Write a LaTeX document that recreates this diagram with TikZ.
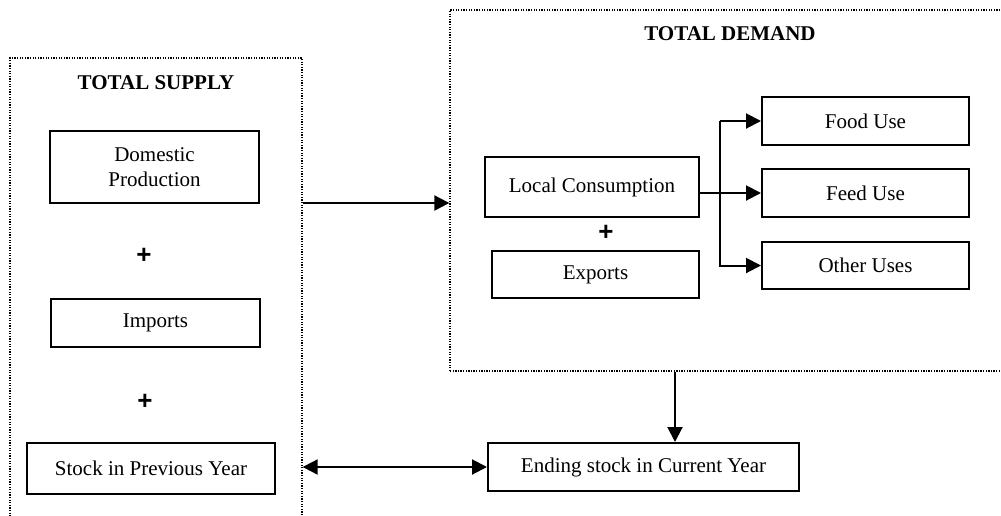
\documentclass[tikz,border=0pt]{standalone}
\usepackage{fontspec}
\setmainfont{Liberation Serif}
\newfontfamily\plusfont{Liberation Sans}
\usetikzlibrary{arrows.meta}
\begin{document}
\begin{tikzpicture}[x=1pt,y=-1pt,
  every node/.style={font=\fontsize{21}{25}\selectfont},
  box/.style={draw, line width=2pt, rectangle, inner sep=0pt, align=center},
  dotbox/.style={draw, line width=1.3pt, dash pattern=on 1.3pt off 1.3pt, rectangle, inner sep=0pt},
  title/.style={font=\fontsize{21}{25}\selectfont\bfseries},
  plus/.style={font=\fontsize{26}{30}\plusfont\bfseries},
  arr/.style={line width=2pt, line join=miter, -{Triangle[length=15pt,width=15pt]}},
  dblarr/.style={line width=2pt, {Triangle[length=15pt,width=15pt]}-{Triangle[length=15pt,width=15pt]}}
]
\useasboundingbox (0,0) rectangle (1001,515);
% dotted group boxes
\node[dotbox, minimum width=292pt, minimum height=472pt] (supplybox) at (156,294) {};
\node[dotbox, minimum width=560pt, minimum height=361pt] (demandbox) at (730,190.5) {};
\node[title] (supplytitle) at (156,83) {TOTAL SUPPLY};
\node[title] (demandtitle) at (730,34) {TOTAL DEMAND};
% supply side
\node[box, minimum width=209pt, minimum height=72pt] (dom) at (154.5,167) {Domestic\\Production};
\node[plus] (plus1) at (144,256) {+};
\node[box, minimum width=209pt, minimum height=48pt] (imp) at (155.5,323) {Imports};
\node[plus] (plus2) at (145,402) {+};
\node[box, minimum width=248pt, minimum height=51pt] (stock) at (151,468.5) {Stock in Previous Year};
% demand side
\node[box, minimum width=214pt, minimum height=60pt] (lc) at (592,187) {Local Consumption};
\node[plus] (plus3) at (606,233) {+};
\node[box, minimum width=207pt, minimum height=47pt] (exp) at (595.5,274.5) {Exports};
\node[box, minimum width=207pt, minimum height=48pt] (food) at (865.5,121) {Food Use};
\node[box, minimum width=207pt, minimum height=48pt] (feed) at (865.5,193) {Feed Use};
\node[box, minimum width=207pt, minimum height=47pt] (other) at (865.5,265.5) {Other Uses};
\node[box, minimum width=311pt, minimum height=48pt] (ending) at (643.5,467) {Ending stock in Current Year};
% connectors
\coordinate (sy) at (0,203);
\coordinate (dx) at (675,0);
\coordinate (br) at (720,0);
\draw[arr] (supplybox.east |- sy) -- (demandbox.west |- sy);
\draw[arr] (demandbox.south -| dx) -- (ending.north -| dx);
\draw[dblarr] (supplybox.east |- ending.west) -- (ending.west);
\draw[arr] (lc.east |- feed.west) -- (feed.west);
\draw[arr] (br |- food.west) -- (food.west);
\draw[arr] (br |- food.west) -- (br |- other.west) -- (other.west);
\end{tikzpicture}
\end{document}
